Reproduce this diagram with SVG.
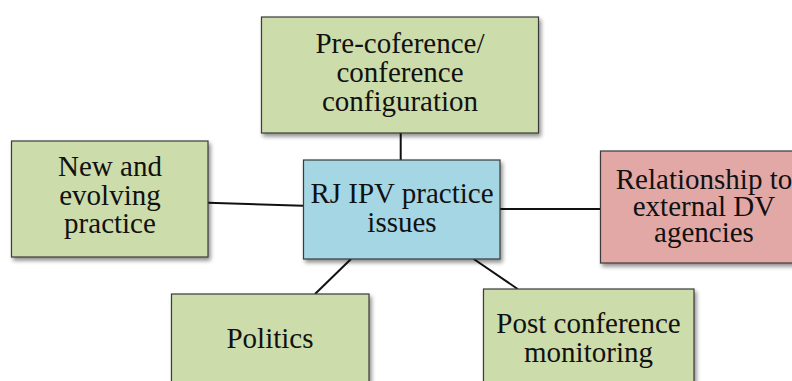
<svg xmlns="http://www.w3.org/2000/svg" width="792" height="381" viewBox="0 0 792 381">
<defs>
<filter id="sh" x="-10%" y="-10%" width="130%" height="130%">
<feGaussianBlur in="SourceAlpha" stdDeviation="2"/>
<feOffset dx="2" dy="3" result="b"/>
<feComponentTransfer><feFuncA type="linear" slope="0.45"/></feComponentTransfer>
<feMerge><feMergeNode/><feMergeNode in="SourceGraphic"/></feMerge>
</filter>
</defs>
<style>
.box{stroke:#3a3a3a;stroke-width:1.2;filter:url(#sh)}
.g{fill:#cddcab}
.b{fill:#a5d6e3}
.r{fill:#e2a8a6}
text{font-family:"Liberation Serif","Times New Roman",serif;font-size:29px;fill:#111;text-anchor:middle}
.ln{stroke:#111;stroke-width:2;fill:none}
</style>
<rect width="792" height="381" fill="#fff"/>
<g id="connectors">
<line class="ln" x1="400.7" y1="133" x2="400.7" y2="160"/>
<line class="ln" x1="208" y1="202.7" x2="303" y2="205.7"/>
<line class="ln" x1="500" y1="209" x2="600" y2="209"/>
<line class="ln" x1="351" y1="259" x2="315" y2="294"/>
<line class="ln" x1="473.7" y1="259" x2="517.7" y2="289"/>
</g>
<g id="n-pre">
<rect class="box g" x="261.5" y="17" width="277" height="116"/>
<text x="400" y="53">Pre-coference/</text>
<text x="400" y="82">conference</text>
<text x="400" y="111">configuration</text>
</g>
<g id="n-new">
<rect class="box g" x="11.5" y="141" width="196.5" height="116"/>
<text x="110" y="176">New and</text>
<text x="110" y="205">evolving</text>
<text x="110" y="233">practice</text>
</g>
<g id="n-center">
<rect class="box b" x="303.5" y="160" width="196.5" height="99"/>
<text x="402" y="203">RJ IPV practice</text>
<text x="402" y="231.5">issues</text>
</g>
<g id="n-rel">
<rect class="box r" x="600.5" y="151" width="208" height="112"/>
<text x="704" y="188.5">Relationship to</text>
<text x="704" y="216">external DV</text>
<text x="704" y="242">agencies</text>
</g>
<g id="n-politics">
<rect class="box g" x="171.5" y="294" width="197.5" height="100"/>
<text x="270" y="348.3">Politics</text>
</g>
<g id="n-post">
<rect class="box g" x="483.5" y="289" width="210.5" height="105"/>
<text x="588.5" y="333">Post conference</text>
<text x="588.5" y="361.7">monitoring</text>
</g>
</svg>
